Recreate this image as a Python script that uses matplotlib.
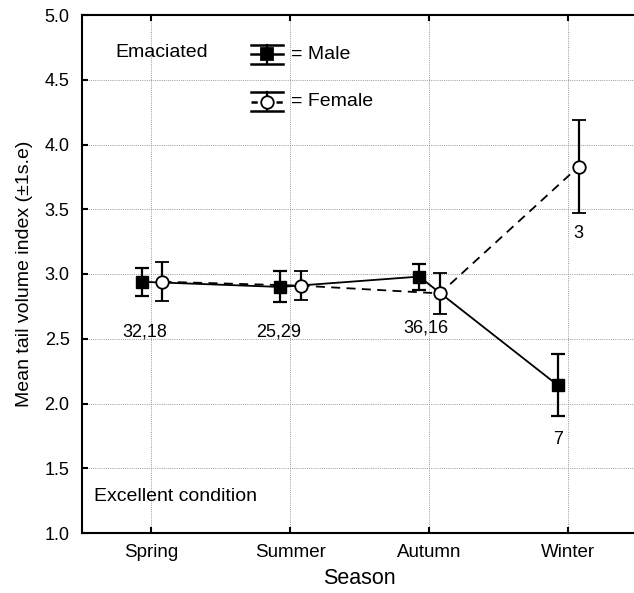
import numpy as np
import matplotlib.pyplot as plt

plt.rcParams['font.family'] = ['Liberation Sans', 'DejaVu Sans']

seasons = ['Spring', 'Summer', 'Autumn', 'Winter']
male_mean = [2.94, 2.90, 2.98, 2.14]
male_se = [0.11, 0.12, 0.10, 0.24]
female_mean = [2.94, 2.91, 2.85, 3.83]
female_se = [0.15, 0.11, 0.16, 0.36]
# sample sizes (male, female) shown under each season
n_labels = ['32,18', '25,29', '36,16', '7', '3']

x = np.arange(len(seasons))
xm = x - 0.07
xf = x + 0.08

fig = plt.figure(figsize=(6.34, 5.93), dpi=100)
ax = fig.add_axes([82 / 634, 60 / 593, 555 / 634, 518 / 593])

ax.set_xlim(-0.5, 3.5)
ax.set_ylim(1.0, 5.0)
ax.set_xticks(x)
ax.set_xticklabels(seasons)
ax.set_yticks(np.arange(1.0, 5.01, 0.5))
ax.set_yticklabels([f'{v:.1f}' for v in np.arange(1.0, 5.01, 0.5)])

ax.grid(True, linestyle=(0, (1, 1.2)), color='#9a9a9a', linewidth=0.7)
ax.set_axisbelow(True)

for s in ['left', 'bottom', 'top']:
    ax.spines[s].set_linewidth(1.5)
ax.spines['right'].set_visible(False)
ax.tick_params(direction='in', length=4, width=1.5, top=True,
               labelsize=13.5, colors='black', pad=8)
ax.tick_params(axis='y', labelsize=13, pad=9)

# lines joining the seasonal means
ax.plot(xm, male_mean, color='black', lw=1.3, zorder=2)
ax.plot(xf, female_mean, color='black', lw=1.3, ls=(0, (5, 3.5)), zorder=2)

ax.errorbar(xm, male_mean, yerr=male_se, fmt='s', color='black', mfc='black',
            mec='black', ms=8.5, elinewidth=1.6, capsize=5, capthick=1.6,
            zorder=3)
ax.errorbar(xf, female_mean, yerr=female_se, fmt='o', color='black', mfc='white',
            mec='black', ms=9, mew=1.3, elinewidth=1.6, capsize=5, capthick=1.6,
            zorder=3)

# sample size labels
lab_x = [-0.05, 0.92, 1.98, xm[3], xf[3]]
lab_y = [2.55, 2.55, 2.58, 1.72, 3.31]
for t, lx, ly in zip(n_labels, lab_x, lab_y):
    ax.text(lx, ly, t, ha='center', va='center', fontsize=13)

ax.text(0.06, 0.928, 'Emaciated', transform=ax.transAxes, fontsize=14,
        va='center', ha='left')
ax.text(0.021, 0.071, 'Excellent condition', transform=ax.transAxes,
        fontsize=14, va='center', ha='left')

# hand-made key with error bar symbols
def key(y, marker, mfc, ls, label):
    x0, x1, xc, d = 0.304, 0.362, 0.333, 0.0185
    tr = ax.transAxes
    ax.plot([x0, x1], [y, y], color='black', lw=1.8, ls=ls, transform=tr,
            clip_on=False, zorder=4)
    ax.plot([xc, xc], [y - d, y + d], color='black', lw=1.6, transform=tr,
            clip_on=False, zorder=4)
    for yy in (y - d, y + d):
        ax.plot([x0, x1], [yy, yy], color='black', lw=1.8, transform=tr,
                clip_on=False, zorder=4)
    ax.plot([xc], [y], marker=marker, ms=9, mfc=mfc, mec='black', mew=1.3,
            transform=tr, clip_on=False, zorder=5)
    ax.text(0.376, y, label, transform=tr, fontsize=14, va='center', ha='left')

key(0.924, 's', 'black', '-', '= Male')
key(0.833, 'o', 'white', (0, (2.5, 2.5)), '= Female')

ax.set_xlabel('Season', fontsize=15.5, labelpad=5)
ax.set_ylabel('Mean tail volume index (\u00b11s.e)', fontsize=14, labelpad=8)

fig.savefig('out.png', dpi=100)
